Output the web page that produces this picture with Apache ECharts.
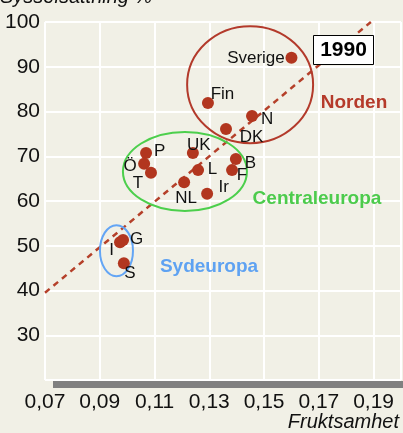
<!DOCTYPE html>
<html>
<head>
<meta charset="utf-8">
<script src="https://cdn.jsdelivr.net/npm/echarts@6/dist/echarts.min.js"></script>
<style>
html,body{margin:0;padding:0;background:#f1f0e6;}
#chart{width:403px;height:433px;}
</style>
</head>
<body>
<div id="chart"></div>
<script>
// ---- data ----
const countries = ['Sverige','Fin','N','DK','UK','P','Ö','T','NL','L','B','F','Ir','G','I','S'];
const fertility = [0.160,0.1295,0.1456,0.1361,0.124,0.1069,0.1062,0.1087,0.1208,0.1259,0.1397,0.1383,0.1292,0.0985,0.0974,0.0988];
const employment = [92.0,81.9,79.0,76.1,70.7,70.7,68.3,66.3,64.2,66.9,69.4,66.9,61.6,51.3,50.8,46.1];
const trendX = [0.07, 0.189];
const trendY = [39.5, 100];
const regionNames = ['Norden','Centraleuropa','Sydeuropa'];
const regionCx = [0.1449, 0.1211, 0.0961];
const regionCy = [86.0, 66.6, 48.9];
const regionRx = [0.0230, 0.02264, 0.00603];
const regionRy = [13.07, 8.83, 5.70];
const xTicks = ['0,07','0,09','0,11','0,13','0,15','0,17','0,19'];
const yTicks = ['30','40','50','60','70','80','90','100'];
const yearLabel = '1990';

// ---- styles ----
const labelOffsets = {
  'Sverige':[-35.5,1],'Fin':[14.5,-9],'N':[15,3],'DK':[25.5,8],'UK':[6,-8],'P':[13.5,-2],
  'Ö':[-14,2],'T':[-13,11],'NL':[2,16],'L':[14.5,-1],'B':[14.5,4],'F':[10,5],'Ir':[16.5,-7],
  'G':[13.5,-1],'I':[-8.5,8],'S':[6,10]
};
const regionColors = ['#b33a2b','#4ccf4c','#63a5f5'];
const regionTextColors = ['#b53a2a','#4ccb4c','#5ea2f2'];
const regionTextPos = [[354,103],[317,199],[209,267]];
const FONT = '"Liberation Sans", Arial, Helvetica, sans-serif';

const chart = echarts.init(document.getElementById('chart'), null, {renderer:'canvas'});

const scatterData = countries.map((c,i)=>({
  name:c, value:[fertility[i], employment[i]],
  label:{offset: labelOffsets[c]}
}));
const ellipseData = regionNames.map((n,i)=>[regionCx[i], regionCy[i], regionRx[i], regionRy[i]]);

function fmtX(v){
  const s = v.toFixed(2).replace('.', ',');
  return xTicks.indexOf(s) >= 0 ? s : '';
}
function fmtY(v){
  const s = String(Math.round(v));
  return yTicks.indexOf(s) >= 0 ? s : '';
}

const graphics = [
  {type:'rect', left:53, top:381, shape:{width:350, height:7}, style:{fill:'#808080'}, z:100},
  {type:'text', left:0, top:-13, style:{text:'Sysselsättning %', font:'italic 20px '+FONT, fill:'#111'}, z:100},
  {type:'text', right:4, top:412, style:{text:'Fruktsamhet', font:'italic 20px '+FONT, fill:'#111'}, z:100},
  {type:'group', left:313, top:35, z:100, children:[
    {type:'rect', z:100, shape:{x:0,y:0,width:60,height:29}, style:{fill:'#fff', stroke:'#000', lineWidth:1}},
    {type:'text', z:101, style:{x:30, y:15, text:yearLabel, align:'center', verticalAlign:'middle', font:'bold 21px '+FONT, fill:'#000'}}
  ]}
];
regionNames.forEach((n,i)=>{
  graphics.push({type:'text', x:regionTextPos[i][0], y:regionTextPos[i][1], z:100,
    style:{text:n, align:'center', verticalAlign:'middle', font:'bold 19px '+FONT, fill:regionTextColors[i]}});
});

chart.setOption({
  backgroundColor:'#f1f0e6',
  animation:false,
  grid:{left:45, top:22, right:2, bottom:53, containLabel:false},
  xAxis:{
    type:'value', min:0.07, max:0.20, interval:0.02,
    axisLine:{show:false}, axisTick:{show:false},
    splitLine:{show:true, lineStyle:{color:'#ffffff', width:2}},
    axisLabel:{formatter:fmtX, fontFamily:FONT, fontSize:21, color:'#111', margin:12, showMaxLabel:false}
  },
  yAxis:{
    type:'value', min:20, max:100, interval:10,
    axisLine:{show:false}, axisTick:{show:false},
    splitLine:{show:true, lineStyle:{color:'#ffffff', width:2}},
    axisLabel:{formatter:fmtY, fontFamily:FONT, fontSize:21, color:'#111', margin:5}
  },
  graphic:{z:100, elements:graphics},
  series:[
    {
      type:'line', data:trendX.map((x,i)=>[x,trendY[i]]), symbol:'none', silent:true,
      lineStyle:{color:'#b5402a', width:2.5, type:[6,5]}, z:3
    },
    {
      type:'custom', data:ellipseData, silent:true, z:4,
      renderItem:function(params, api){
        const c = api.coord([api.value(0), api.value(1)]);
        const s = api.size([api.value(2), api.value(3)]);
        return {type:'ellipse', shape:{cx:c[0], cy:c[1], rx:s[0], ry:s[1]},
          style:{fill:'none', stroke:regionColors[params.dataIndex], lineWidth:2}};
      }
    },
    {
      type:'scatter', data:scatterData, symbolSize:12, z:5,
      itemStyle:{color:'#b2361f', opacity:1},
      label:{show:true, position:'inside', formatter:'{b}', fontFamily:FONT, fontSize:17, color:'#111'}
    }
  ]
});
</script>
</body>
</html>
